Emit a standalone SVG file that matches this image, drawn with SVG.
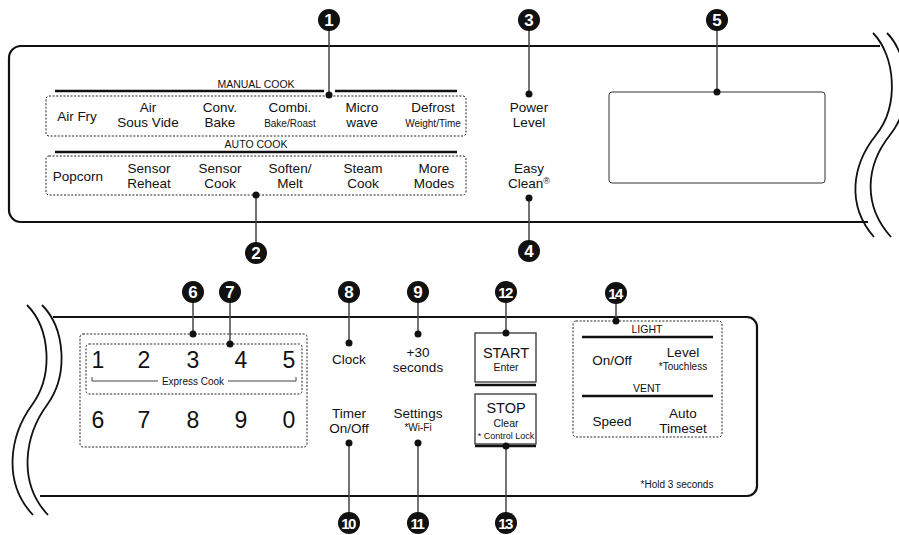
<svg xmlns="http://www.w3.org/2000/svg" width="899" height="535" viewBox="0 0 899 535">
<style>
text{font-family:"Liberation Sans",Arial,sans-serif;fill:#111;text-anchor:middle}
.l{font-size:13.5px}
.s{font-size:10px}
.h{font-size:10.5px}
.d{font-size:23px}
.num{font-size:17px;font-weight:bold;fill:#fff}
.num2{font-size:15px;font-weight:bold;fill:#fff;letter-spacing:-1.5px}
.panel{fill:none;stroke:#111;stroke-width:2.2}
.wave{fill:none;stroke:#111;stroke-width:1.8}
.dash{fill:none;stroke:#222;stroke-width:1;stroke-dasharray:2 1.6}
.bar{stroke:#111;stroke-width:2.6}
.conn line{stroke:#444;stroke-width:1.5}
.dot{fill:#111}
.badge{fill:#111}
.box{fill:#fff;stroke:#333;stroke-width:1.3}
</style>

<!-- panels -->
<g id="top-panel">
<path class="panel" d="M880,46 H21 A12,12 0 0 0 9,58 V210 A12,12 0 0 0 21,222 H868"/>
<path class="wave" d="M873,33 C895,55 900,105 876,135 S846,205 874,237"/>
<path class="wave" d="M887,33 C909,55 914,105 890,135 S862,205 891,237"/>
</g>
<g id="bottom-panel">
<path class="panel" d="M53,317 H747 A10,10 0 0 1 757,327 V486 A10,10 0 0 1 747,496 H40"/>
<path class="wave" d="M27,305 C50,328 54,375 32,405 S2,482 33,515"/>
<path class="wave" d="M42,305 C65,328 69,375 47,405 S17,482 48,515"/>
</g>

<!-- connectors -->
<g class="conn" id="connectors">
<line x1="329" y1="20" x2="329" y2="95"/>
<line x1="256" y1="195" x2="256" y2="252"/>
<line x1="529" y1="20" x2="529" y2="94"/>
<line x1="529" y1="198" x2="529" y2="250"/>
<line x1="717" y1="20" x2="717" y2="92"/>
<line x1="193" y1="292" x2="193" y2="334"/>
<line x1="230" y1="292" x2="230" y2="344"/>
<line x1="349" y1="292" x2="349" y2="343"/>
<line x1="418" y1="292" x2="418" y2="334"/>
<line x1="349" y1="443" x2="349" y2="523"/>
<line x1="418" y1="443" x2="418" y2="523"/>
<line x1="506" y1="292" x2="506" y2="333"/>
<line x1="506" y1="446" x2="506" y2="523"/>
<line x1="616" y1="293" x2="616" y2="321"/>
</g>

<!-- manual cook group -->
<g id="manual-cook">
<text class="h" x="256" y="88">MANUAL COOK</text>
<line class="bar" x1="55" y1="91" x2="324" y2="91"/>
<line class="bar" x1="335" y1="91" x2="457" y2="91"/>
<rect class="dash" x="46" y="96" width="420" height="40" rx="3"/>
<text class="l" x="77" y="121">Air Fry</text>
<text class="l" x="148" y="112">Air</text><text class="l" x="148" y="127">Sous Vide</text>
<text class="l" x="220" y="112">Conv.</text><text class="l" x="220" y="127">Bake</text>
<text class="l" x="290" y="112">Combi.</text><text class="s" x="290" y="127">Bake/Roast</text>
<text class="l" x="362" y="112">Micro</text><text class="l" x="362" y="127">wave</text>
<text class="l" x="433" y="112">Defrost</text><text class="s" x="433" y="127">Weight/Time</text>
</g>

<g id="auto-cook">
<text class="h" x="256" y="148">AUTO COOK</text>
<line class="bar" x1="55" y1="152" x2="457" y2="152"/>
<rect class="dash" x="46" y="156" width="420" height="39" rx="3"/>
<text class="l" x="78" y="181">Popcorn</text>
<text class="l" x="149" y="173">Sensor</text><text class="l" x="149" y="188">Reheat</text>
<text class="l" x="220" y="173">Sensor</text><text class="l" x="220" y="188">Cook</text>
<text class="l" x="290" y="173">Soften/</text><text class="l" x="290" y="188">Melt</text>
<text class="l" x="363" y="173">Steam</text><text class="l" x="363" y="188">Cook</text>
<text class="l" x="434" y="173">More</text><text class="l" x="434" y="188">Modes</text>
</g>

<g id="power-level">
<text class="l" x="529" y="112">Power</text><text class="l" x="529" y="127">Level</text>
</g>
<g id="easy-clean">
<text class="l" x="529" y="173">Easy</text><text class="l" x="529" y="188">Clean<tspan font-size="9" dy="-4">®</tspan></text>
</g>
<g id="display">
<rect x="609" y="92" width="216" height="91" rx="3" fill="none" stroke="#333" stroke-width="1"/>
</g>

<!-- number pad -->
<g id="number-pad">
<rect class="dash" x="80" y="334" width="227" height="113" rx="3"/>
<rect class="dash" x="86" y="344" width="216" height="50" rx="3"/>
<text class="d" x="98" y="368">1</text>
<text class="d" x="144" y="368">2</text>
<text class="d" x="193" y="368">3</text>
<text class="d" x="241" y="368">4</text>
<text class="d" x="289" y="368">5</text>
<text class="d" x="98" y="428">6</text>
<text class="d" x="144" y="428">7</text>
<text class="d" x="193" y="428">8</text>
<text class="d" x="241" y="428">9</text>
<text class="d" x="289" y="428">0</text>
<path d="M92,377 V381 H158 M228,381 H296 V377" fill="none" stroke="#444" stroke-width="1"/>
<text class="s" x="193" y="385">Express Cook</text>
</g>

<g id="clock"><text class="l" x="349" y="364">Clock</text></g>
<g id="plus30"><text class="l" x="418" y="357">+30</text><text class="l" x="418" y="372">seconds</text></g>
<g id="timer"><text class="l" x="349" y="418">Timer</text><text class="l" x="349" y="433">On/Off</text></g>
<g id="settings"><text class="l" x="418" y="418">Settings</text><text class="s" x="418" y="431">*Wi-Fi</text></g>

<g id="start">
<rect class="box" x="475" y="333" width="61" height="49"/>
<line class="bar" x1="475" y1="385" x2="536" y2="385" stroke-width="3"/>
<text x="506" y="358" style="font-size:14.5px">START</text>
<text class="h" x="506" y="371">Enter</text>
</g>
<g id="stop">
<rect class="box" x="475" y="394" width="61" height="50"/>
<line class="bar" x1="475" y1="446" x2="536" y2="446" stroke-width="3"/>
<text x="506" y="413" style="font-size:14.5px">STOP</text>
<text class="h" x="506" y="427">Clear</text>
<text x="506" y="439" style="font-size:9px">* Control Lock</text>
</g>

<g id="light-vent">
<rect class="dash" x="573" y="321" width="149" height="116" rx="3"/>
<text class="h" x="647" y="333">LIGHT</text>
<line class="bar" x1="582" y1="337" x2="713" y2="337"/>
<text class="l" x="612" y="365">On/Off</text>
<text class="l" x="683" y="357">Level</text>
<text class="s" x="683" y="370">*Touchless</text>
<text class="h" x="647" y="392">VENT</text>
<line class="bar" x1="582" y1="396" x2="713" y2="396"/>
<text class="l" x="612" y="426">Speed</text>
<text class="l" x="683" y="418">Auto</text>
<text class="l" x="683" y="433">Timeset</text>
</g>
<g id="hold-note"><text class="s" x="677" y="488">*Hold 3 seconds</text></g>

<!-- dots -->
<g id="dots">
<circle class="dot" cx="329" cy="95" r="3.5"/>
<circle class="dot" cx="256" cy="195" r="3.5"/>
<circle class="dot" cx="529" cy="94" r="3.5"/>
<circle class="dot" cx="529" cy="198" r="3.5"/>
<circle class="dot" cx="717" cy="92" r="3.5"/>
<circle class="dot" cx="193" cy="334" r="3.5"/>
<circle class="dot" cx="230" cy="344" r="3.5"/>
<circle class="dot" cx="349" cy="343" r="3.5"/>
<circle class="dot" cx="418" cy="334" r="3.5"/>
<circle class="dot" cx="349" cy="443" r="3.5"/>
<circle class="dot" cx="418" cy="443" r="3.5"/>
<circle class="dot" cx="506" cy="333" r="3.5"/>
<circle class="dot" cx="506" cy="446" r="3.5"/>
<circle class="dot" cx="616" cy="321" r="3.5"/>
</g>

<!-- badges -->
<g id="badge-1"><circle class="badge" cx="329" cy="20" r="11"/><text class="num" x="329" y="26">1</text></g>
<g id="badge-2"><circle class="badge" cx="256" cy="253" r="11"/><text class="num" x="256" y="259">2</text></g>
<g id="badge-3"><circle class="badge" cx="529" cy="20" r="11"/><text class="num" x="529" y="26">3</text></g>
<g id="badge-4"><circle class="badge" cx="529" cy="251" r="11"/><text class="num" x="529" y="257">4</text></g>
<g id="badge-5"><circle class="badge" cx="717" cy="20" r="11"/><text class="num" x="717" y="26">5</text></g>
<g id="badge-6"><circle class="badge" cx="193" cy="292" r="11"/><text class="num" x="193" y="298">6</text></g>
<g id="badge-7"><circle class="badge" cx="230" cy="292" r="11"/><text class="num" x="230" y="298">7</text></g>
<g id="badge-8"><circle class="badge" cx="349" cy="292" r="11"/><text class="num" x="349" y="298">8</text></g>
<g id="badge-9"><circle class="badge" cx="418" cy="292" r="11"/><text class="num" x="418" y="298">9</text></g>
<g id="badge-10"><circle class="badge" cx="349" cy="523" r="11"/><text class="num2" x="348" y="528.5">10</text></g>
<g id="badge-11"><circle class="badge" cx="418" cy="523" r="11"/><text class="num2" x="417" y="528.5">11</text></g>
<g id="badge-12"><circle class="badge" cx="506" cy="292" r="11"/><text class="num2" x="505" y="297.5">12</text></g>
<g id="badge-13"><circle class="badge" cx="506" cy="523" r="11"/><text class="num2" x="505" y="528.5">13</text></g>
<g id="badge-14"><circle class="badge" cx="616" cy="293" r="11"/><text class="num2" x="615" y="298.5">14</text></g>
</svg>
